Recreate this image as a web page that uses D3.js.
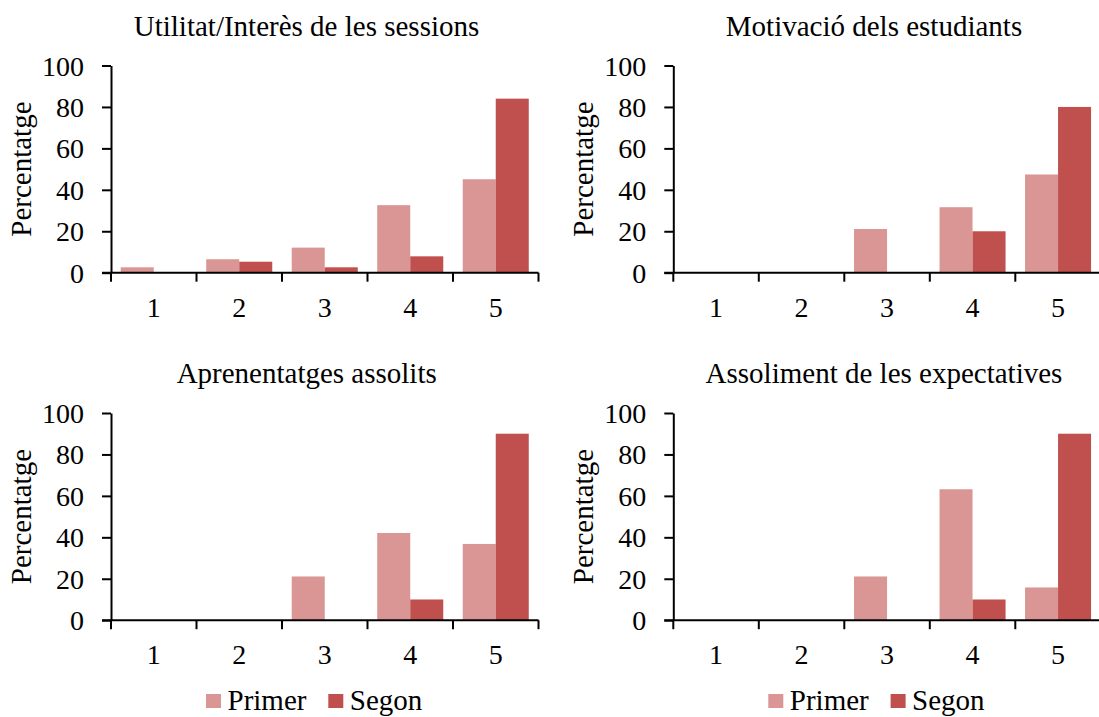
<!DOCTYPE html>
<html>
<head>
<meta charset="utf-8">
<script src="https://cdn.jsdelivr.net/npm/d3@7"></script>
<style>
  html, body { margin: 0; padding: 0; background: #fff; }
  svg { display: block; }
  text { font-family: "Liberation Serif", "Times New Roman", serif; fill: #000; }
</style>
</head>
<body>
<svg id="chart" width="1099" height="717"></svg>
<script>
// ---- data ----
const categories = ["1", "2", "3", "4", "5"];
const seriesNames = ["Primer", "Segon"];
const yTicks = [0, 20, 40, 60, 80, 100];
const titles = [
  "Utilitat/Interès de les sessions",
  "Motivació dels estudiants",
  "Aprenentatges assolits",
  "Assoliment de les expectatives"
];
const utilitatPrimer = [2.6, 6.5, 12.1, 32.6, 45.1];
const utilitatSegon  = [0, 5.3, 2.6, 7.9, 84.0];
const motivacioPrimer = [0, 0, 21.1, 31.6, 47.4];
const motivacioSegon  = [0, 0, 0, 20, 80];
const aprenentatgesPrimer = [0, 0, 21.1, 42.1, 36.8];
const aprenentatgesSegon  = [0, 0, 0, 10, 90];
const assolimentPrimer = [0, 0, 21.1, 63.2, 15.8];
const assolimentSegon  = [0, 0, 0, 10, 90];
const yLabel = "Percentatge";

const colors = { Primer: "#D99694", Segon: "#C0504D" };

const panels = [
  { title: titles[0], primer: utilitatPrimer, segon: utilitatSegon, x0: 111, y0: 0, tx: 306.5 },
  { title: titles[1], primer: motivacioPrimer, segon: motivacioSegon, x0: 673.3, y0: 0, tx: 874 },
  { title: titles[2], primer: aprenentatgesPrimer, segon: aprenentatgesSegon, x0: 111, y0: 347.5, tx: 306.7, legend: 206 },
  { title: titles[3], primer: assolimentPrimer, segon: assolimentSegon, x0: 673.3, y0: 347.5, tx: 884, legend: 768.3 }
];

const svg = d3.select("#chart");
const plotW = 427.5;
const plotTop = 65.5, plotBottom = 272.7;

panels.forEach(p => {
  const g = svg.append("g").attr("transform", `translate(0,${p.y0})`);
  const x0 = d3.scaleBand().domain(categories).range([p.x0, p.x0 + plotW]).padding(0);
  const x1 = d3.scaleBand().domain(seriesNames).range([0, x0.bandwidth()]).paddingInner(0).paddingOuter(0.295);
  const y = d3.scaleLinear().domain([0, 100]).range([plotBottom, plotTop]);

  // title
  g.append("text").attr("x", p.tx).attr("y", 35.5)
    .attr("text-anchor", "middle").attr("font-size", 29).text(p.title);

  // bars
  const rows = categories.map((c, i) => ({ c, Primer: p.primer[i], Segon: p.segon[i] }));
  const grp = g.append("g").selectAll("g").data(rows).join("g")
    .attr("transform", d => `translate(${x0(d.c)},0)`);
  grp.selectAll("rect").data(d => seriesNames.map(s => ({ s, v: d[s] })))
    .join("rect")
    .attr("x", d => x1(d.s))
    .attr("width", x1.bandwidth())
    .attr("y", d => y(d.v))
    .attr("height", d => y(0) - y(d.v))
    .attr("fill", d => colors[d.s]);

  // y axis
  const yAxis = d3.axisLeft(y).tickValues(yTicks).tickSize(9).tickPadding(18).tickSizeOuter(0);
  const ya = g.append("g").attr("transform", `translate(${p.x0},0)`).call(yAxis);
  ya.select(".domain").attr("stroke", "#000").attr("stroke-width", 2);
  ya.selectAll(".tick line").attr("stroke", "#000").attr("stroke-width", 2);
  ya.selectAll(".tick text").attr("font-size", 28).attr("font-family", "Liberation Serif").attr("fill", "#000").attr("dy", "0.34em");

  // x axis (line + boundary ticks)
  const xa = g.append("g");
  xa.append("line").attr("x1", p.x0 - 9).attr("x2", p.x0 + plotW)
    .attr("y1", y(0)).attr("y2", y(0)).attr("stroke", "#000").attr("stroke-width", 2);
  const bounds = categories.map(c => x0(c)).concat([p.x0 + plotW]);
  xa.selectAll("line.tk").data(bounds).join("line").attr("class", "tk")
    .attr("x1", d => d).attr("x2", d => d)
    .attr("y1", y(0)).attr("y2", y(0) + 9)
    .attr("stroke", "#000").attr("stroke-width", 2);
  xa.selectAll("text").data(categories).join("text")
    .attr("x", d => x0(d) + x0.bandwidth() / 2).attr("y", 316.5)
    .attr("text-anchor", "middle").attr("font-size", 28).text(d => d);

  // y label
  g.append("text")
    .attr("transform", `translate(${p.x0 - 80},${(plotTop + plotBottom) / 2}) rotate(-90)`)
    .attr("text-anchor", "middle").attr("font-size", 29).text(yLabel);

  // legend
  if (p.legend !== undefined) {
    const lg = svg.append("g");
    const items = [
      { s: "Primer", x: p.legend },
      { s: "Segon", x: p.legend + 122.3 }
    ];
    items.forEach(it => {
      lg.append("rect").attr("x", it.x).attr("y", 694).attr("width", 15).attr("height", 14)
        .attr("fill", colors[it.s]);
      lg.append("text").attr("x", it.x + 21.5).attr("y", 710).attr("font-size", 29).text(it.s);
    });
  }
});
</script>
</body>
</html>
